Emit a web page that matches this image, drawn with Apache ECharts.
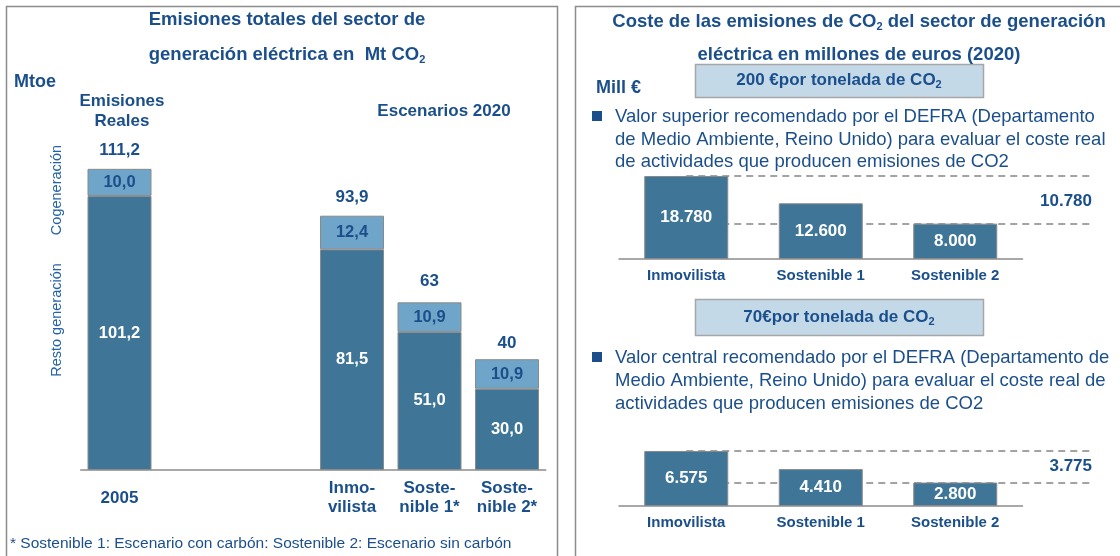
<!DOCTYPE html>
<html lang="es" style="height: 100%">
<head>
  <meta charset="utf-8">
</head>
<body style="height: 100%; margin: 0; background: #fff">
  <div id="container" style="width: 1120px; height: 556px"></div>

  <script type="text/javascript" src="https://cdn.jsdelivr.net/npm/echarts@6/dist/echarts.min.js"></script>

  <script type="text/javascript">
    // --- datos: emisiones (Mt CO2) ---
    var emisCats = ['2005', '', '', 'Inmo-\nvilista', 'Soste-\nnible 1*', 'Soste-\nnible 2*'];
    var restoGen = [101.2, null, null, 81.5, 51.0, 30.0];
    var cogenGen = [10.0, null, null, 12.4, 10.9, 10.9];
    var totales = [111.2, null, null, 93.9, 63, 40];

    // --- datos: coste (millones de euros) ---
    var costeCats = ['Inmovilista', 'Sostenible 1', 'Sostenible 2'];
    var coste200 = [18780, 12600, 8000];
    var coste70 = [6575, 4410, 2800];

    var FONT = 'Liberation Sans, Arial, sans-serif';
    var AZUL = '#1b4f8c';
    var OSCURO = '#3f7698';
    var CLARO = '#6fa5c8';

    function numES(v, dec) {
      return v.toFixed(dec).replace('.', ',');
    }
    function milES(v) {
      return String(v).replace(/\B(?=(\d{3})+(?!\d))/g, '.');
    }

    var dom = document.getElementById('container');
    var myChart = echarts.init(dom, null, { renderer: 'canvas' });

    var rich = {
      sub: { fontSize: 11, fontWeight: 'bold', fontFamily: FONT, color: AZUL, padding: [10, 0, 0, 0] }
    };

    function txt(x, y, text, opt) {
      opt = opt || {};
      return {
        type: 'text', x: x, y: y, rotation: opt.rotation || 0,
        style: {
          text: text, fill: opt.color || AZUL, font: (opt.weight || 'bold') + ' ' + (opt.size || 16) + 'px ' + FONT,
          align: opt.align || 'left', verticalAlign: 'middle', rich: rich
        },
        z: 10
      };
    }

    function costeBar(grid, data, distLbl) {
      var diff = data[0] - data[2];
      return {
        type: 'bar', xAxisIndex: grid, yAxisIndex: grid, data: data, barWidth: 84,
        itemStyle: { color: OSCURO, borderColor: '#8a8a8a', borderWidth: 1 },
        label: {
          show: true, position: 'inside', color: '#fff', fontWeight: 'bold', fontSize: 17, fontFamily: FONT,
          formatter: function (p) { return milES(p.value); }
        },
        markLine: {
          z: 1, silent: true, symbol: 'none',
          lineStyle: { color: '#858585', type: [7, 5], width: 1.5 },
          label: { show: false },
          data: [
            [{ xAxis: 0, yAxis: data[0] }, { x: 1093, yAxis: data[0] }],
            [{ xAxis: 0, yAxis: data[2] }, {
              x: 1093, yAxis: data[2],
              label: {
                show: true, position: 'insideEndTop', distance: [1, distLbl], color: AZUL, fontWeight: 'bold',
                fontSize: 17, fontFamily: FONT, formatter: function () { return milES(diff); }
              }
            }]
          ]
        }
      };
    }

    var option = {
      animation: false,
      textStyle: { fontFamily: FONT },
      grid: [
        { left: 80.75, right: 574.25, top: 145, bottom: 86 },
        { left: 619, right: 97.5, top: 170.6, height: 88.4 },
        { left: 619, right: 97.5, top: 447.4, height: 58.6 }
      ],
      xAxis: [
        {
          gridIndex: 0, type: 'category', data: emisCats,
          axisLine: { lineStyle: { color: '#8c8c8c', width: 1.5 } }, axisTick: { show: false },
          axisLabel: { color: AZUL, fontWeight: 'bold', fontSize: 17, fontFamily: FONT, lineHeight: 19, margin: 28, verticalAlign: 'middle', interval: 0 }
        },
        {
          gridIndex: 1, type: 'category', data: costeCats,
          axisLine: { lineStyle: { color: '#8c8c8c', width: 1.5 } }, axisTick: { show: false },
          axisLabel: { color: AZUL, fontWeight: 'bold', fontSize: 15, fontFamily: FONT, margin: 9 }
        },
        {
          gridIndex: 2, type: 'category', data: costeCats,
          axisLine: { lineStyle: { color: '#8c8c8c', width: 1.5 } }, axisTick: { show: false },
          axisLabel: { color: AZUL, fontWeight: 'bold', fontSize: 15, fontFamily: FONT, margin: 9 }
        }
      ],
      yAxis: [
        { gridIndex: 0, type: 'value', min: 0, max: 120, show: false, splitLine: { show: false } },
        { gridIndex: 1, type: 'value', min: 0, max: 20000, show: false, splitLine: { show: false } },
        { gridIndex: 2, type: 'value', min: 0, max: 7000, show: false, splitLine: { show: false } }
      ],
      series: [
        {
          name: 'Resto generación', type: 'bar', stack: 'e', data: restoGen, barWidth: 64, barGap: '-100%',
          itemStyle: { color: OSCURO, borderColor: '#8a8a8a', borderWidth: 1 },
          label: {
            show: true, position: 'inside', color: '#fff', fontWeight: 'bold', fontSize: 16.5, fontFamily: FONT,
            formatter: function (p) { return numES(p.value, 1); }
          }
        },
        {
          name: 'Cogeneración', type: 'bar', stack: 'e', data: cogenGen, barWidth: 64, barGap: '-100%',
          itemStyle: { color: CLARO, borderColor: '#8a8a8a', borderWidth: 1 },
          label: {
            show: true, position: 'inside', color: AZUL, fontWeight: 'bold', fontSize: 16.5, fontFamily: FONT,
            formatter: function (p) { return numES(p.value, 1); }
          }
        },
        {
          name: 'Total', type: 'bar', data: totales, barWidth: 64, barGap: '-100%', silent: true,
          itemStyle: { color: 'rgba(0,0,0,0)' }, z: 1,
          label: {
            show: true, position: 'top', distance: 10, color: AZUL, fontWeight: 'bold', fontSize: 17, fontFamily: FONT,
            formatter: function (p) { return p.value % 1 === 0 && p.value < 90 ? String(p.value) : numES(p.value, 1); }
          }
        },
        costeBar(1, coste200, 14),
        costeBar(2, coste70, 8)
      ],
      graphic: [
        // marcos
        { type: 'rect', shape: { x: 6.5, y: 6.5, width: 551, height: 570 }, style: { fill: 'none', stroke: '#8c8c8c', lineWidth: 1.5 }, z: 0 },
        { type: 'rect', shape: { x: 575.5, y: 6.5, width: 570, height: 570 }, style: { fill: 'none', stroke: '#8c8c8c', lineWidth: 1.5 }, z: 0 },
        // panel izquierdo
        txt(287, 20, 'Emisiones totales del sector de', { align: 'center', size: 18.5 }),
        txt(287, 55, 'generación eléctrica en  Mt CO{sub|2}', { align: 'center', size: 18.5 }),
        txt(14, 82, 'Mtoe', { size: 18 }),
        txt(122, 101, 'Emisiones', { align: 'center', size: 17 }),
        txt(122, 121, 'Reales', { align: 'center', size: 17 }),
        txt(444, 111, 'Escenarios 2020', { align: 'center', size: 17 }),
        txt(57, 190, 'Cogeneración', { align: 'center', size: 14.5, weight: 'normal', rotation: Math.PI / 2, color: '#2563a8' }),
        txt(57, 320, 'Resto generación', { align: 'center', size: 14.5, weight: 'normal', rotation: Math.PI / 2, color: '#2563a8' }),
        txt(10, 544, '* Sostenible 1: Escenario con carbón: Sostenible 2: Escenario sin carbón', { size: 15.5, weight: 'normal' }),
        // panel derecho
        txt(859, 22, 'Coste de las emisiones de CO{sub|2} del sector de generación', { align: 'center', size: 18.5 }),
        txt(859, 55, 'eléctrica en millones de euros (2020)', { align: 'center', size: 18.5 }),
        txt(596, 88, 'Mill €', { size: 18 }),
        { type: 'rect', shape: { x: 695.5, y: 64.5, width: 288, height: 33 }, style: { fill: '#c3d9e8', stroke: '#a6a6a6', lineWidth: 1.5 }, z: 5 },
        txt(839, 80, '200 €por tonelada de CO{sub|2}', { align: 'center', size: 17 }),
        { type: 'rect', shape: { x: 592, y: 111, width: 10, height: 10 }, style: { fill: AZUL }, z: 5 },
        txt(615, 117, 'Valor superior recomendado por el DEFRA (Departamento', { size: 18.5, weight: 'normal' }),
        txt(615, 139.5, 'de Medio Ambiente, Reino Unido) para evaluar el coste real', { size: 18.5, weight: 'normal' }),
        txt(615, 162, 'de actividades que producen emisiones de CO2', { size: 18.5, weight: 'normal' }),
        { type: 'rect', shape: { x: 695.5, y: 299.5, width: 288, height: 36 }, style: { fill: '#c3d9e8', stroke: '#a6a6a6', lineWidth: 1.5 }, z: 5 },
        txt(839, 317, '70€por tonelada de CO{sub|2}', { align: 'center', size: 17 }),
        { type: 'rect', shape: { x: 592, y: 352, width: 10, height: 10 }, style: { fill: AZUL }, z: 5 },
        txt(615, 358, 'Valor central recomendado por el DEFRA (Departamento de', { size: 18.5, weight: 'normal' }),
        txt(615, 381, 'Medio Ambiente, Reino Unido) para evaluar el coste real de', { size: 18.5, weight: 'normal' }),
        txt(615, 404, 'actividades que producen emisiones de CO2', { size: 18.5, weight: 'normal' })
      ]
    };

    myChart.setOption(option);
    window.addEventListener('resize', myChart.resize);
  </script>
</body>
</html>
